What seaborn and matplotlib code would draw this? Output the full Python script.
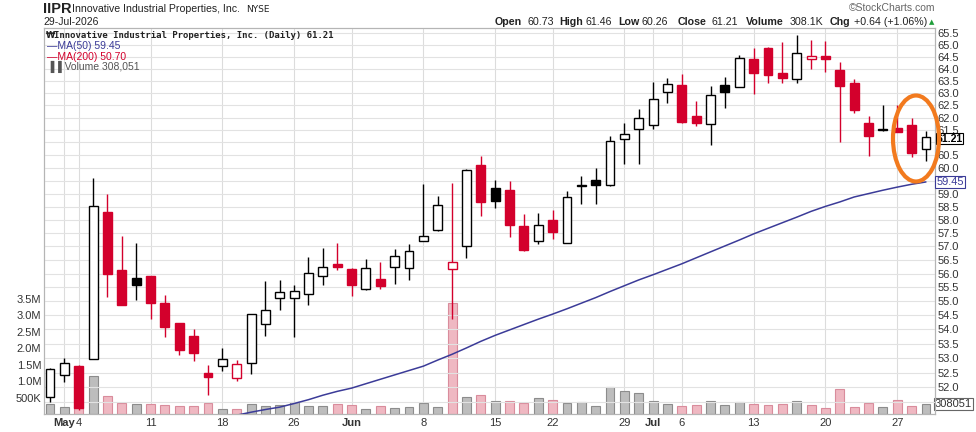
import numpy as np
import pandas as pd
import matplotlib
matplotlib.use('Agg')
import matplotlib.pyplot as plt
import seaborn as sns
from matplotlib.patches import Ellipse
from matplotlib.ticker import FixedLocator, FixedFormatter, NullLocator

# daily bars, 30-Apr-2026 .. 29-Jul-2026
dates = ['Apr30', 'May1', 'May4', 'May5', 'May6', 'May7', 'May8',
         'May11', 'May12', 'May13', 'May14', 'May15',
         'May18', 'May19', 'May20', 'May21', 'May22',
         'May26', 'May27', 'May28', 'May29',
         'Jun1', 'Jun2', 'Jun3', 'Jun4', 'Jun5',
         'Jun8', 'Jun9', 'Jun10', 'Jun11', 'Jun12',
         'Jun15', 'Jun16', 'Jun17', 'Jun18',
         'Jun22', 'Jun23', 'Jun24', 'Jun25', 'Jun26',
         'Jun29', 'Jun30', 'Jul1', 'Jul2',
         'Jul6', 'Jul7', 'Jul8', 'Jul9', 'Jul10',
         'Jul13', 'Jul14', 'Jul15', 'Jul16', 'Jul17',
         'Jul20', 'Jul21', 'Jul22', 'Jul23', 'Jul24',
         'Jul27', 'Jul28', 'Jul29']

opens = [51.66, 52.43, 52.73, 52.97, 58.31, 56.13, 55.85, 55.90, 54.95, 54.22,
         53.76, 52.47, 52.73, 52.32, 52.82, 54.20, 55.13, 55.12, 55.25, 55.90,
         56.35, 56.17, 55.44, 55.80, 56.23, 56.20, 57.21, 57.60, 56.16, 57.00,
         60.10, 59.20, 59.13, 57.78, 57.22, 58.00, 57.14, 59.35, 59.52, 59.32,
         61.12, 61.52, 61.70, 63.05, 63.35, 62.06, 61.75, 63.32, 63.26, 64.43,
         64.89, 63.84, 63.57, 64.43, 64.54, 63.97, 63.43, 61.79, 61.52, 61.56,
         61.72, 60.73]
highs = [52.67, 53.01, 52.75, 59.60, 59.00, 57.40, 57.14, 55.92, 55.23, 54.24,
         54.02, 52.76, 53.36, 52.93, 54.55, 55.72, 55.78, 55.58, 56.60, 56.93,
         57.14, 56.20, 56.54, 56.43, 56.92, 57.10, 59.36, 58.90, 59.40, 59.95,
         60.45, 59.52, 59.47, 58.22, 58.26, 58.38, 59.10, 59.67, 59.98, 61.27,
         61.77, 62.33, 63.46, 63.63, 63.77, 62.66, 63.28, 63.66, 64.60, 64.86,
         64.90, 65.14, 65.43, 65.21, 65.18, 64.27, 63.56, 62.07, 62.50, 62.52,
         62.00, 61.46]
lows = [51.49, 52.19, 51.25, 52.95, 55.16, 54.85, 55.06, 54.37, 53.72, 53.10,
        52.91, 51.74, 52.55, 52.21, 52.44, 53.78, 54.67, 53.72, 54.87, 55.57,
        56.15, 55.20, 55.42, 55.44, 55.62, 55.78, 57.19, 57.58, 54.37, 56.56,
        58.15, 58.44, 57.37, 56.83, 57.08, 57.29, 57.12, 58.60, 58.60, 59.30,
        60.15, 60.15, 61.52, 62.59, 61.80, 61.67, 60.90, 62.39, 63.24, 62.98,
        63.43, 63.43, 63.43, 64.00, 63.89, 61.00, 62.19, 60.46, 61.47, 61.40,
        60.44, 60.26]
closes = [52.61, 52.84, 51.29, 58.52, 55.98, 54.88, 55.57, 54.93, 54.07, 53.27,
          53.18, 52.35, 52.96, 52.79, 54.53, 54.70, 55.35, 55.37, 56.03, 56.26,
          56.23, 55.58, 56.19, 55.55, 56.64, 56.82, 57.40, 58.55, 56.43, 59.93,
          58.67, 58.70, 57.80, 56.87, 57.82, 57.54, 58.87, 59.30, 59.35, 61.05,
          61.35, 62.00, 62.75, 63.38, 61.83, 61.80, 62.91, 63.05, 64.47, 63.84,
          63.75, 63.64, 64.68, 64.52, 64.40, 63.30, 62.30, 61.27, 61.49, 61.43,
          60.57, 61.21]
volume_m = [0.29, 0.21, 0.22, 1.16, 0.56, 0.32, 0.30, 0.30, 0.27, 0.24,
            0.24, 0.32, 0.15, 0.14, 0.29, 0.24, 0.26, 0.37, 0.24, 0.24,
            0.29, 0.27, 0.14, 0.24, 0.18, 0.21, 0.32, 0.21, 3.35, 0.53,
            0.59, 0.39, 0.39, 0.32, 0.48, 0.42, 0.32, 0.35, 0.24, 0.83,
            0.71, 0.65, 0.39, 0.30, 0.24, 0.27, 0.39, 0.27, 0.35, 0.30,
            0.27, 0.30, 0.39, 0.27, 0.18, 0.77, 0.21, 0.32, 0.21, 0.41,
            0.24, 0.308051]

# MA(50), from bar 12 onward
ma50_first = 12
ma50 = [50.98, 51.06, 51.16, 51.25, 51.33, 51.45, 51.58, 51.73, 51.86, 51.97,
        52.12, 52.27, 52.42, 52.57, 52.72, 52.93, 53.13, 53.35, 53.58, 53.79,
        53.98, 54.17, 54.36, 54.54, 54.73, 54.93, 55.13, 55.35, 55.56, 55.77,
        55.96, 56.16, 56.36, 56.58, 56.80, 57.02, 57.24, 57.47, 57.68, 57.89,
        58.10, 58.32, 58.51, 58.68, 58.87, 59.00, 59.13, 59.25, 59.36, 59.45]

tick_pos = [1, 2, 7, 12, 17, 21, 26, 31, 35, 40, 42, 44, 49, 54, 59]
tick_labels = ['May', '4', '11', '18', '26', 'Jun', '8', '15', '22', '29',
               'Jul', '6', '13', '20', '27']
month_labels = ['May', 'Jun', 'Jul']
price_ticks = list(np.arange(51.5, 65.51, 0.5))
hidden_price_labels = [51.5, 59.5, 61.0]   # sit under the value tags
vol_ticks = [0.5, 1.0, 1.5, 2.0, 2.5, 3.0, 3.5]
vol_tick_labels = ['500K', '1.0M', '1.5M', '2.0M', '2.5M', '3.0M', '3.5M']

RED = '#D3002C'
NAVY = '#3B3B98'

df = pd.DataFrame({'date': dates, 'open': opens, 'high': highs, 'low': lows,
                   'close': closes, 'vol': volume_m})
df['i'] = np.arange(len(df))
df['prev'] = df['close'].shift(1).fillna(df['open'])
df['down'] = df['close'] < df['prev']

sns.set_style('white')
plt.rcParams['font.family'] = ['Liberation Sans', 'DejaVu Sans']

W_PX, H_PX = 976, 432
fig = plt.figure(figsize=(W_PX / 100, H_PX / 100), dpi=100)
left, right, top, bottom = 44, 935, 28, 414
ax_vol = fig.add_axes([left / W_PX, 1 - bottom / H_PX,
                       (right - left) / W_PX, (bottom - top) / H_PX])

# volume bars
vol_fill = ['#EFB8C2' if d else '#BDBDBD' for d in df['down']]
vol_edge = ['#D98C9C' if d else '#8C8C8C' for d in df['down']]
sns.barplot(data=df, x='i', y='vol', hue='i', palette=vol_fill, legend=False,
            width=0.62, ax=ax_vol)
for p in ax_vol.patches:
    k = int(round(p.get_x() + p.get_width() / 2))
    p.set_facecolor(vol_fill[k])
    p.set_edgecolor(vol_edge[k])
    p.set_linewidth(0.8)

ax_vol.set_ylim(0, 11.7)
ax_vol.set_xlim(-0.42, 61.63)
ax_vol.set_xlabel('')
ax_vol.set_ylabel('')
ax_vol.yaxis.set_major_locator(FixedLocator(vol_ticks))
ax_vol.yaxis.set_major_formatter(FixedFormatter(vol_tick_labels))
ax_vol.xaxis.set_major_locator(FixedLocator(tick_pos))
ax_vol.xaxis.set_major_formatter(FixedFormatter(tick_labels))
ax_vol.tick_params(axis='both', length=0, labelsize=8, colors='#333333')
ax_vol.tick_params(axis='y', pad=2)
ax_vol.tick_params(axis='x', pad=3)
for t in ax_vol.get_xticklabels():
    if t.get_text() in month_labels:
        t.set_fontweight('bold')
ax_vol.grid(axis='x', color='#DCDCDC', lw=0.8)
ax_vol.grid(axis='y', visible=False)

# price panel
ax = ax_vol.twinx()
ax.set_yscale('log')
ax.set_ylim(51.10, 65.73)
ax.yaxis.set_major_locator(FixedLocator(price_ticks))
ax.yaxis.set_major_formatter(FixedFormatter(
    ['' if round(v, 1) in hidden_price_labels else f'{v:.1f}' for v in price_ticks]))
ax.yaxis.set_minor_locator(NullLocator())
ax.tick_params(axis='y', length=0, labelsize=8, colors='#333333', pad=2)
ax.grid(axis='y', color='#E2E2E2', lw=0.8)
ax.set_axisbelow(True)

for a in (ax, ax_vol):
    for s in a.spines.values():
        s.set_color('#B5B5B5')
        s.set_linewidth(0.8)

for r in df.itertuples():
    col = RED if r.down else 'black'
    ax.vlines(r.i, r.low, r.high, color=col, lw=1.0, zorder=3)
    lo, hi = min(r.open, r.close), max(r.open, r.close)
    hi = max(hi, lo * 1.0006)
    fill = 'white' if r.close > r.open else col
    ax.bar(r.i, hi - lo, bottom=lo, width=0.62, color=fill, edgecolor=col,
           lw=1.0, zorder=4)

sns.lineplot(x=list(range(ma50_first, ma50_first + len(ma50))), y=ma50,
             ax=ax, color=NAVY, lw=1.1, zorder=5)

# value tags at right edge
ax.annotate(f'{closes[-1]:.2f}', xy=(1.0, closes[-1]),
            xycoords=('axes fraction', 'data'), xytext=(1, -1),
            textcoords='offset points', va='center', ha='left', fontsize=7.6,
            fontweight='bold', color='black', annotation_clip=False, zorder=6,
            bbox=dict(boxstyle='square,pad=0.08', fc='white', ec='black', lw=0.8))
ax.annotate(f'{ma50[-1]:.2f}', xy=(1.0, ma50[-1]),
            xycoords=('axes fraction', 'data'), xytext=(1, 0),
            textcoords='offset points', va='center', ha='left', fontsize=8,
            color=NAVY, annotation_clip=False, zorder=6,
            bbox=dict(boxstyle='square,pad=0.12', fc='white', ec=NAVY, lw=0.8))
ax_vol.annotate(f'{int(round(volume_m[-1] * 1e6))}', xy=(1.0, volume_m[-1]),
                xycoords=('axes fraction', 'data'), xytext=(0, 0),
                textcoords='offset points', va='center', ha='left', fontsize=8,
                color='#333333', annotation_clip=False, zorder=6,
                bbox=dict(boxstyle='square,pad=0.12', fc='white', ec='#666666', lw=0.8))


def px(x, y, s, **kw):
    fig.text(x / W_PX, 1 - y / H_PX, s, va='center', **kw)


# header
px(43, 9, 'IIPR', fontsize=10.5, fontweight='bold', color='#222222')
px(72, 9, 'Innovative Industrial Properties, Inc.', fontsize=7.6, color='#222222')
px(246, 9.5, 'NYSE', fontsize=6.5, color='#222222', family='DejaVu Sans')
px(43, 22, '29-Jul-2026', fontsize=7.5, color='#222222')
px(935, 8, '\u00a9StockCharts.com', fontsize=7.5, color='#666666', ha='right')

hdr = [(495, 'Open', True), (527, '60.73', False), (559, 'High', True),
       (586, '61.46', False), (618, 'Low', True), (642, '60.26', False),
       (678, 'Close', True), (711, '61.21', False), (746, 'Volume', True),
       (790, '308.1K', False), (830, 'Chg', True), (854, '+0.64 (+1.06%)', False)]
for x, s, b in hdr:
    px(x, 22, s, fontsize=7.7, fontweight='bold' if b else 'normal', color='#222222')
px(929, 22, '\u25b2', fontsize=5, color='#1F9E3A', family='DejaVu Sans')

# legend inside panel
px(46, 35, '\u20a9', fontsize=6, color='#222222', family='DejaVu Sans', fontweight='bold')
px(54.5, 35, 'Innovative Industrial Properties, Inc. (Daily) 61.21',
   fontsize=6.5, color='#222222', family='DejaVu Sans Mono', fontweight='bold')
px(47, 46, '\u2014MA(50) 59.45', fontsize=7.5, color=NAVY)
px(47, 57, '\u2014MA(200) 50.70', fontsize=7.5, color=RED)
px(47, 67, '\u2590\u2590 Volume 308,051', fontsize=7.5, color='#555555')

fig.add_artist(Ellipse((916 / W_PX, 1 - 138.5 / H_PX), 46 / W_PX, 86 / H_PX,
                       transform=fig.transFigure, fill=False, ec='#F27A1E',
                       lw=3.0, zorder=10))

fig.savefig('out.png', dpi=100)
